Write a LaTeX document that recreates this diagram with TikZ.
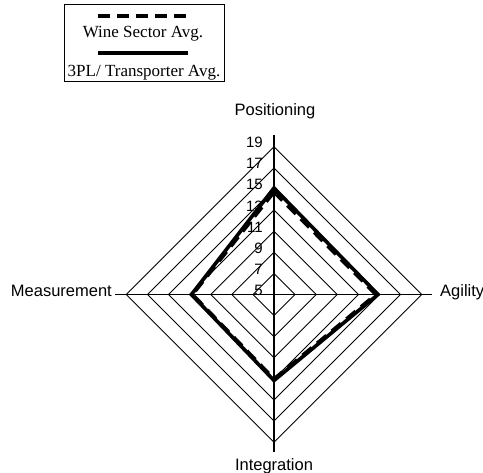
\documentclass[tikz,border=0pt]{standalone}
\usepackage{fontspec}
\usetikzlibrary{calc}
\setmainfont{Liberation Serif}
\newfontfamily\axfont{Liberation Sans}
\begin{document}
\begin{tikzpicture}[x=1pt,y=-1pt,
  ring/.style={line width=0.9pt},
  axisline/.style={line width=1.3pt},
  solidser/.style={line width=3.6pt,line join=miter},
  dashser/.style={line width=3.6pt,dash pattern=on 12pt off 7pt,line join=miter},
  ticklab/.style={anchor=base east,inner sep=0pt,font=\axfont\fontsize{15}{17}\selectfont},
  axlab/.style={inner sep=0pt,font=\axfont\fontsize{16.5}{19}\selectfont},
  leglab/.style={anchor=base,inner sep=0pt,font=\fontsize{17}{19}\selectfont}]
\useasboundingbox (0,0) rectangle (483,473);
\coordinate (c) at (274,294.5);
% rings
\foreach \k in {1,...,7}{
  \draw[ring] ($(c)+(0,-21.1*\k)$) -- ($(c)+(21.1*\k,0)$) -- ($(c)+(0,21.1*\k)$) -- ($(c)+(-21.1*\k,0)$) -- cycle;
}
% axes
\coordinate (at) at (274,135.5);
\coordinate (ab) at (274,452);
\coordinate (al) at (115,294.5);
\coordinate (ar) at (432,294.5);
\draw[axisline] (at) -- (ab);
\draw[axisline] (al) -- (ar);
% tick labels
\foreach \v [count=\i from 0] in {5,7,9,11,13,15,17,19}{
  \node[ticklab] (t\v) at (263,{295.5-21.1*\i}) {\v};
}
% series
\coordinate (st) at (274,188);
\coordinate (sr) at (378,294.5);
\coordinate (sb) at (274,380.5);
\coordinate (sl) at (191.5,294.5);
\coordinate (dt) at (274,192);
\coordinate (dr) at (376,294.5);
\coordinate (db) at (274,379);
\coordinate (dl) at (192.5,294.5);
\draw[solidser] (st) -- (sr) -- (sb) -- (sl) -- cycle;
\draw[dashser] (dt) -- (dr) -- (db) -- (dl) -- cycle;
% axis labels
\node[axlab,anchor=base] (lp) at (275,116) {Positioning};
\node[axlab,anchor=base west] (la) at (440,297) {Agility};
\node[axlab,anchor=base east] (lm) at (112,297) {Measurement};
\node[axlab,anchor=base] (li) at (274,471) {Integration};
% legend
\node[draw,line width=0.8pt,minimum width=160pt,minimum height=77.5pt,inner sep=0pt] (leg) at (144,43) {};
\coordinate (d1) at (98,15.7);
\coordinate (d2) at (188,15.7);
\coordinate (s1) at (98,53.3);
\coordinate (s2) at (188,53.3);
\draw[line width=4pt,dash pattern=on 12pt off 7pt] (d1) -- (d2);
\draw[line width=4pt] (s1) -- (s2);
\node[leglab] (lw) at (143,37.7) {Wine Sector Avg.};
\node[leglab] (l3) at (144,76.7) {3PL/ Transporter Avg.};
\end{tikzpicture}
\end{document}
